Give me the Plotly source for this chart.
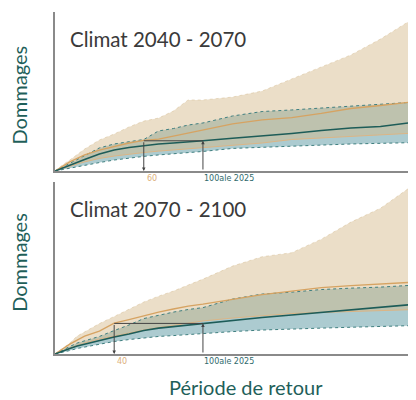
import plotly.graph_objects as go

# Return period grid (years)
periods = [0, 5, 10, 15, 20, 30, 40, 50, 60, 70, 80, 90, 100, 120, 140, 160, 180, 200, 220, 244]

# ---- Climat 2040 - 2070 (top panel) ----
top_future_high = [0, 3.8, 6.9, 10.1, 13.8, 19.5, 23.3, 27.7, 31.4, 33.3, 37.7, 44.7, 44.7, 46.5, 50.3, 57.9, 65.4, 73.0, 83.0, 96.9]
top_future_med = [0, 3.1, 5.7, 7.9, 10.1, 13.2, 15.4, 17.6, 19.2, 20.1, 22.0, 23.9, 25.5, 29.6, 32.1, 33.6, 36.2, 39.3, 41.2, 43.7]
top_future_low = [0, 1.6, 3.1, 4.4, 5.7, 7.9, 9.4, 10.7, 11.6, 12.5, 13.2, 14.0, 14.8, 16.0, 17.6, 19.8, 20.8, 21.4, 22.6, 23.9]
top_2025_high = [0, 2.5, 5.0, 7.5, 9.7, 14.5, 17.0, 18.6, 19.8, 25.2, 26.7, 28.9, 30.2, 34.6, 37.4, 38.4, 39.6, 40.9, 41.8, 43.4]
top_2025_med = [0, 1.9, 3.8, 5.3, 7.2, 10.7, 13.2, 14.8, 16.0, 17.0, 17.6, 18.2, 19.0, 20.6, 22.0, 23.6, 25.5, 27.0, 28.0, 30.8]
top_2025_low = [0, 0.9, 1.9, 2.8, 3.8, 5.3, 6.9, 8.2, 9.2, 10.1, 10.7, 11.3, 12.3, 14.2, 15.0, 15.7, 16.4, 17.0, 17.4, 17.9]

# ---- Climat 2070 - 2100 (bottom panel) ----
bot_future_high = [0, 3.4, 6.3, 10.3, 12.6, 17.5, 21.6, 25.9, 29.9, 33.3, 36.2, 39.7, 43.1, 50.6, 56.0, 58.3, 66.1, 75.9, 83.9, 98.3]
bot_future_med = [0, 2.9, 5.7, 8.0, 10.3, 13.2, 17.8, 19.8, 22.1, 24.1, 25.9, 27.6, 28.7, 31.6, 34.2, 36.2, 38.2, 39.4, 40.2, 41.4]
bot_future_low = [0, 1.7, 3.4, 4.9, 6.3, 8.6, 10.3, 12.1, 13.8, 15.2, 16.4, 17.8, 19.0, 20.7, 21.8, 23.3, 23.9, 24.4, 25.0, 25.6]
bot_2025_high = [0, 2.3, 4.3, 6.3, 7.5, 10.1, 13.5, 16.7, 20.4, 22.4, 24.1, 25.6, 26.7, 31.6, 34.5, 35.6, 37.1, 37.9, 38.5, 39.7]
bot_2025_med = [0, 1.7, 3.2, 4.6, 5.7, 7.8, 9.8, 11.5, 13.5, 14.9, 15.8, 16.7, 17.6, 19.3, 21.0, 22.4, 24.0, 25.6, 27.0, 28.7]
bot_2025_low = [0, 0.9, 2.0, 3.2, 4.0, 5.7, 7.2, 8.3, 9.3, 10.1, 10.6, 11.2, 11.9, 12.9, 13.8, 14.5, 14.9, 15.4, 15.8, 16.4]

titles = ["Climat 2040 - 2070", "Climat 2070 - 2100"]
ref_period = 100
ref_label = "100ale 2025"
equiv_periods = [60, 40]
equiv_labels = ["60", "40"]

TAN_FILL = "rgba(212,184,136,0.46)"
TEAL_FILL = "rgba(70,140,150,0.45)"
ORANGE = "#d6a362"
TEAL = "#1d5c58"
TEAL_EDGE = "#3f7f80"
TAN_EDGE = "rgba(205,175,125,0.55)"
AXIS = "#8a8a8a"
ARROW = "#444444"

fig = go.Figure()

panels = [
    (top_future_high, top_future_med, top_future_low, top_2025_high, top_2025_med, top_2025_low),
    (bot_future_high, bot_future_med, bot_future_low, bot_2025_high, bot_2025_med, bot_2025_low),
]
ylabel_pos = [0.48, 0.535]

annotations = []
for i, (fh, fm, fl, ch, cm, cl) in enumerate(panels):
    xa = "x" if i == 0 else "x2"
    ya = "y" if i == 0 else "y2"
    kw = dict(xaxis=xa, yaxis=ya, showlegend=False, hoverinfo="skip")
    # 2025 band
    fig.add_trace(go.Scatter(x=periods, y=cl, mode="lines", line=dict(width=0), **kw))
    fig.add_trace(go.Scatter(x=periods, y=ch, mode="lines", line=dict(width=0),
                             fill="tonexty", fillcolor=TEAL_FILL, **kw))
    # future band
    fig.add_trace(go.Scatter(x=periods, y=fl, mode="lines", line=dict(width=0), **kw))
    fig.add_trace(go.Scatter(x=periods, y=fh, mode="lines", line=dict(width=0),
                             fill="tonexty", fillcolor=TAN_FILL, **kw))
    # edges
    fig.add_trace(go.Scatter(x=periods, y=fh, mode="lines", line=dict(color=TAN_EDGE, width=0.7, dash="dot"), **kw))
    fig.add_trace(go.Scatter(x=periods, y=fl, mode="lines", line=dict(color="#dcb585", width=1), **kw))
    fig.add_trace(go.Scatter(x=periods, y=ch, mode="lines", line=dict(color=TEAL_EDGE, width=1, dash="dot"), **kw))
    fig.add_trace(go.Scatter(x=periods, y=cl, mode="lines", line=dict(color=TEAL_EDGE, width=1, dash="dot"), **kw))
    # medians
    fig.add_trace(go.Scatter(x=periods, y=fm, mode="lines", line=dict(color=ORANGE, width=1.3), **kw))
    fig.add_trace(go.Scatter(x=periods, y=cm, mode="lines", line=dict(color=TEAL, width=1.6), **kw))

    # damage level of the 2025 reference return period
    level = cm[periods.index(ref_period)]
    eq = equiv_periods[i]
    fig.add_trace(go.Scatter(x=[ref_period, eq], y=[level, level], mode="lines",
                             line=dict(color=ARROW, width=1), **kw))
    annotations.append(dict(x=ref_period, y=level, ax=ref_period, ay=0, xref=xa, yref=ya,
                            axref=xa, ayref=ya, showarrow=True, arrowhead=2, arrowsize=0.7,
                            arrowwidth=1, arrowcolor=ARROW, text=""))
    annotations.append(dict(x=eq, y=0, ax=eq, ay=level, xref=xa, yref=ya,
                            axref=xa, ayref=ya, showarrow=True, arrowhead=2, arrowsize=0.7,
                            arrowwidth=1, arrowcolor=ARROW, text=""))
    annotations.append(dict(x=eq, y=0, xref=xa, yref=ya, text=equiv_labels[i], showarrow=False,
                            xanchor="left", yanchor="top", yshift=-1, xshift=1,
                            font=dict(family="DejaVu Sans", size=8, color="#dcb07a")))
    annotations.append(dict(x=ref_period, y=0, xref=xa, yref=ya, text=ref_label, showarrow=False,
                            xanchor="left", yanchor="top", yshift=-1, xshift=-1,
                            font=dict(family="DejaVu Sans", size=8, color="#2f6a6c")))
    annotations.append(dict(x=0.035, y=1, xref="paper", yref=f"{ya} domain", text=titles[i],
                            showarrow=False, xanchor="left", yanchor="top", yshift=-13,
                            font=dict(family="Lato", size=20.5, color="#3a3a3a")))
    annotations.append(dict(x=-0.1, y=ylabel_pos[i], xref="paper", yref=f"{ya} domain",
                            text="Dommages", showarrow=False, textangle=-90,
                            xanchor="center", yanchor="middle",
                            font=dict(family="Lato", size=20, color="#1f5f5a")))

annotations.append(dict(x=0.5, y=0, xref="paper", yref="paper", text="Période de retour",
                        showarrow=False, xanchor="center", yanchor="middle", yshift=-33, xshift=10,
                        font=dict(family="Lato", size=20, color="#1f5f5a")))

axis_common = dict(showgrid=False, zeroline=False, showticklabels=False, ticks="",
                   showline=True, linecolor=AXIS, linewidth=1.5)

fig.update_layout(
    width=408, height=392,
    margin=dict(l=47, r=0, t=4, b=46),
    plot_bgcolor="white", paper_bgcolor="white",
    xaxis=dict(domain=[0, 1], range=[0, 244], anchor="y", **axis_common),
    yaxis=dict(domain=[0.5351, 1], range=[0, 100], anchor="x", **axis_common),
    xaxis2=dict(domain=[0, 1], range=[0, 244], anchor="y2", **axis_common),
    yaxis2=dict(domain=[0, 0.503], range=[0, 99], anchor="x2", **axis_common),
    annotations=annotations,
)

fig.write_html("out.html")
